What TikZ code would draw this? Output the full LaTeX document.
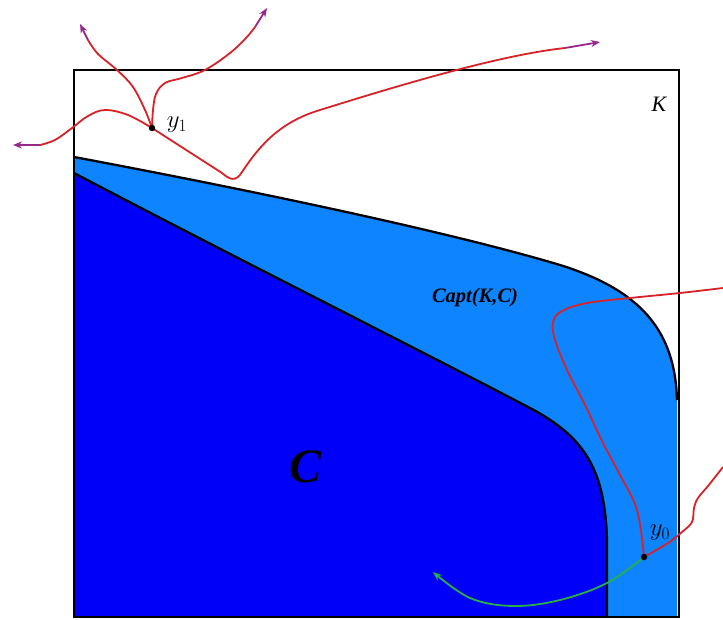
\documentclass[tikz,border=0pt]{standalone}
\usepackage{fontspec}
\newfontfamily\timesf{Liberation Serif}
\usetikzlibrary{arrows.meta}
\definecolor{cdark}{RGB}{0,0,250}
\definecolor{clight}{RGB}{15,132,255}
\definecolor{cred}{RGB}{215,35,40}
\definecolor{cpurple}{RGB}{150,40,140}
\definecolor{cgreen}{RGB}{40,175,70}
\tikzset{
  bound/.style={draw=black,line width=2.3pt},
  traj/.style={draw=cred,line width=1.8pt},
  tipseg/.style={draw=cpurple,line width=1.8pt,-{Stealth[length=9pt,width=7pt]}},
  gtraj/.style={draw=cgreen,line width=1.8pt,-{Stealth[length=9pt,width=7pt]}},
  dot/.style={circle,fill=black,inner sep=0pt,minimum size=6.5pt},
}
\begin{document}
\begin{tikzpicture}[x=1pt,y=-1pt]
\useasboundingbox (0,0) rectangle (723,619);
\fill[white] (0,0) rectangle (723,619);
% capture basin (light blue)
\fill[clight] (74,157) .. controls (250,190) and (450,232) .. (560,265) .. controls (640,290) and (675,330) .. (677,400) -- (677,617) -- (74,617) -- cycle;
\draw[bound] (74,157) .. controls (250,190) and (450,232) .. (560,265) .. controls (640,290) and (675,330) .. (677,400);
% target C (dark blue)
\fill[cdark] (74,173) .. controls (230,255) and (400,340) .. (530,408) .. controls (585,437) and (605,470) .. (607,540) -- (607,617) -- (74,617) -- cycle;
\draw[bound] (74,173) .. controls (230,255) and (400,340) .. (530,408) .. controls (585,437) and (605,470) .. (607,540) -- (607,617);
% box K
\draw[black,line width=2.8pt] (74,70) rectangle (679,617);
% points
\coordinate (y1) at (152,128);
\coordinate (y0) at (644,557);
\coordinate (a1) at (40,145);  \coordinate (t1) at (13,145);
\coordinate (a2) at (565,48);  \coordinate (t2) at (600,42);
\coordinate (a3) at (88,40);   \coordinate (t3) at (80,24);
\coordinate (a4) at (255,27);  \coordinate (t4) at (267,8);
\coordinate (gt) at (433,572);
% trajectories from y1
\draw[traj] plot[smooth,tension=0.6] coordinates {(152,128) (128,115) (105,110) (88,116) (72,128) (55,140) (40,145)};
\draw[tipseg] (a1) -- (t1);
\draw[traj] (y1) -- (222,173) .. controls (230,180) and (236,182) .. (242,172) .. controls (260,145) and (280,122) .. (320,110) .. controls (400,85) and (500,55) .. (a2);
\draw[tipseg] (a2) -- (t2);
\draw[traj] plot[smooth,tension=0.6] coordinates {(152,128) (145,110) (133,87) (117,70) (98,54) (88,40)};
\draw[tipseg] (a3) -- (t3);
\draw[traj] plot[smooth,tension=0.6] coordinates {(152,128) (153,110) (156,94) (165,83) (182,78) (205,70) (230,53) (246,38) (255,27)};
\draw[tipseg] (a4) -- (t4);
% trajectories from y0
\draw[traj] plot[smooth,tension=0.6] coordinates {(644,557) (637,510) (620,475) (603,443) (585,405) (567,370) (555,340) (553,322) (562,311) (587,303) (630,298) (680,293) (723,288)};
\draw[traj] plot[smooth,tension=0.6] coordinates {(644,557) (668,543) (682,532) (692,522) (694,508) (698,498) (708,486) (723,467)};
\draw[gtraj] plot[smooth,tension=0.6] coordinates {(644,557) (607,583) (560,600) (513,606) (470,598) (433,572)};
\node[dot] (d1) at (y1) {};
\node[dot] (d0) at (y0) {};
% labels
\node (ly1) at (177,125) {\fontsize{24}{28}\selectfont $y_1$};
\node (ly0) at (660,533) {\fontsize{24}{28}\selectfont $y_0$};
\node (lK) at (659,104) {\timesf\itshape\fontsize{22}{26}\selectfont K};
\node (lcapt) at (475,298) {\timesf\bfseries\itshape\fontsize{20.5}{24}\selectfont Capt(K,C)};
\node (lC) at (306,467) {\timesf\bfseries\itshape\fontsize{48}{52}\selectfont C};
\end{tikzpicture}
\end{document}
